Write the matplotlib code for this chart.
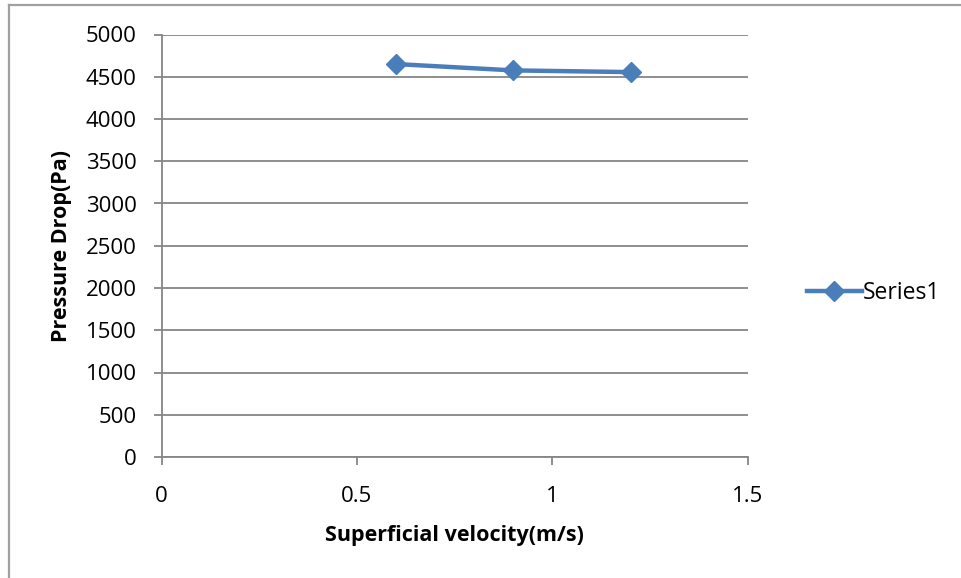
import matplotlib.pyplot as plt
from matplotlib.lines import Line2D

# data
velocity = [0.6, 0.9, 1.2]
pressure_drop = [4650, 4575, 4555]
x_ticks = [0, 0.5, 1, 1.5]
x_tick_labels = ['0', '0.5', '1', '1.5']
y_ticks = [0, 500, 1000, 1500, 2000, 2500, 3000, 3500, 4000, 4500, 5000]

plt.rcParams['font.family'] = ['Open Sans', 'DejaVu Sans']

W, H = 961, 578
fig = plt.figure(figsize=(W / 100, H / 100), dpi=100)
ax = fig.add_axes([161.5 / W, 1 - 457 / H, (748 - 161.5) / W, (457 - 34.5) / H])

grid_col = '#868686'
blue = '#4A7EBB'

ax.plot(velocity, pressure_drop, color=blue, lw=3.2, marker='D', ms=10,
        mfc=blue, mec=blue, label='Series1', clip_on=False, zorder=3)

ax.set_xlim(0, 1.5)
ax.set_ylim(0, 5000)
ax.set_xticks(x_ticks)
ax.set_xticklabels(x_tick_labels)
ax.set_yticks(y_ticks)
ax.yaxis.grid(True, color=grid_col, lw=1.3)
ax.set_axisbelow(True)

for side in ['top', 'right']:
    ax.spines[side].set_visible(False)
for side in ['left', 'bottom']:
    ax.spines[side].set_color(grid_col)
    ax.spines[side].set_linewidth(1.3)

ax.tick_params(axis='both', colors=grid_col, width=1.3, length=6,
               labelcolor='black', labelsize=16)
ax.tick_params(axis='x', pad=15)
ax.tick_params(axis='y', pad=12)

ax.set_xlabel('Superficial velocity(m/s)', fontsize=15.5, fontweight='bold',
              labelpad=12.5)
ax.set_ylabel('Pressure Drop(Pa)', fontsize=15.5, fontweight='bold',
              labelpad=9.5)

ax.legend(loc='center left', bbox_to_anchor=(786 / W, 1 - 293 / H),
          bbox_transform=fig.transFigure, frameon=False, fontsize=16.5,
          handlelength=2.4, handletextpad=0.05)

# outer chart-area border (only left and top visible in the crop)
fig.add_artist(Line2D([8.5 / W, 8.5 / W], [0, 1 - 5 / H], color='#A0A0A0', lw=1.6,
                      transform=fig.transFigure))
fig.add_artist(Line2D([8.5 / W, 1], [1 - 5 / H, 1 - 5 / H], color='#A0A0A0',
                      lw=1.6, transform=fig.transFigure))

fig.savefig('out.png', dpi=100)
